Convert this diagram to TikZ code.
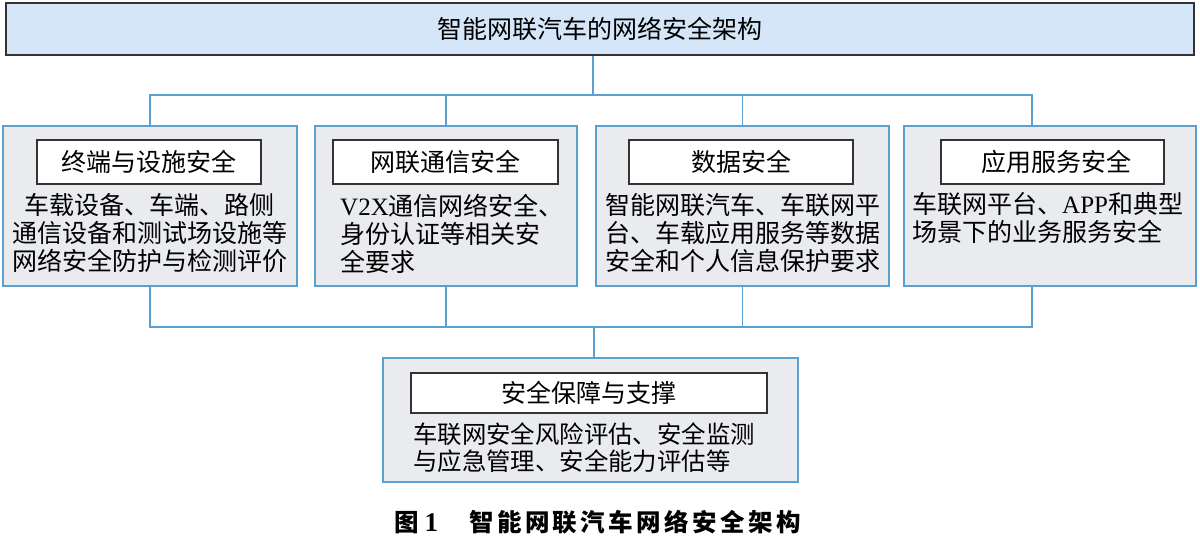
\documentclass[tikz,border=0pt]{standalone}
\usepackage{fontspec}
\setmainfont{Noto Sans CJK SC}
\newfontfamily\lat{Liberation Serif}
\definecolor{boxblue}{HTML}{5AA0D0}
\definecolor{boxgray}{HTML}{E9EBEE}
\definecolor{topfill}{HTML}{D4E6F8}
\definecolor{darkline}{HTML}{333333}
\tikzset{
  topbox/.style={draw=darkline, line width=1.5pt, fill=topfill, minimum width=1188, minimum height=52, inner sep=0, font=\fontsize{25}{28}\selectfont},
  mainbox/.style={draw=boxblue, line width=1.5pt, fill=boxgray, minimum height=160, inner sep=0},
  headbox/.style={draw=darkline, line width=1.2pt, fill=white, minimum height=44, inner sep=0, font=\fontsize{25}{28}\selectfont},
  body/.style={inner sep=0, align=left, font=\fontsize{25}{28}\selectfont, anchor=north west},
  link/.style={draw=boxblue, line width=1.3pt},
  captext/.style={inner sep=0, anchor=base west, font=\fontsize{24.5}{25}\selectfont\bfseries},
}
\begin{document}
\begin{tikzpicture}[x=1pt, y=-1pt]
\useasboundingbox (0,0) rectangle (1200,536);
% title
\node[topbox] (top) at (600,29) {智能网联汽车的网络安全架构};
% main boxes
\node[mainbox, minimum width=294] (b1) at (150,206) {};
\node[mainbox, minimum width=262] (b2) at (446,206) {};
\node[mainbox, minimum width=293] (b3) at (742.5,206) {};
\node[mainbox, minimum width=292] (b4) at (1050,206) {};
\node[mainbox, minimum width=415, minimum height=124] (b5) at (590.5,420) {};
% headers
\node[headbox, minimum width=224] (h1) at (149,162) {终端与设施安全};
\node[headbox, minimum width=225] (h2) at (445.5,162) {网联通信安全};
\node[headbox, minimum width=224] (h3) at (741,162) {数据安全};
\node[headbox, minimum width=223] (h4) at (1052.5,162) {\hspace{8pt}应用服务安全};
\node[headbox, minimum width=356, minimum height=40] (h5) at (589,393) {安全保障与支撑};
% body texts
\node[body, anchor=north, align=center] (t1) at (150,193.5) {车载设备、车端、路侧\\通信设备和测试场设施等\\网络安全防护与检测评价};
\node[body] (t2) at (340,193.5) {{\lat V2X}通信网络安全、\\身份认证等相关安\\全要求};
\node[body] (t3) at (605,193.5) {智能网联汽车、车联网平\\台、车载应用服务等数据\\安全和个人信息保护要求};
\node[body] (t4) at (912,192) {车联网平台、{\lat APP}和典型\\场景下的业务服务安全};
\node[body, font=\fontsize{24.4}{27}\selectfont] (t5) at (413,423) {车联网安全风险评估、安全监测\\与应急管理、安全能力评估等};
% connectors
\coordinate (jt) at (593,95);
\coordinate (ct) at (1032,95);
\coordinate (jb) at (594,327);
\coordinate (cb) at (1032,327);
\draw[link] (top.south -| jt) -- (jt);
\draw[link] (b1.north) |- (ct) -- (ct |- b4.north);
\draw[link] (b2.north) -- (b2.north |- jt);
\draw[link] (b3.north) -- (b3.north |- jt);
\draw[link] (b1.south) |- (cb) -- (cb |- b4.south);
\draw[link] (b2.south) -- (b2.south |- jb);
\draw[link] (b3.south) -- (b3.south |- jb);
\draw[link] (jb) -- (jb |- b5.north);
% caption
\node[captext] (cap1) at (394,531) {图\hspace{6pt}{\lat\fontsize{27}{27}\selectfont 1}};
\node[captext] (cap2) at (469,531) {\addfontfeature{LetterSpace=14}智能网联汽车网络安全架构};
\end{tikzpicture}
\end{document}
